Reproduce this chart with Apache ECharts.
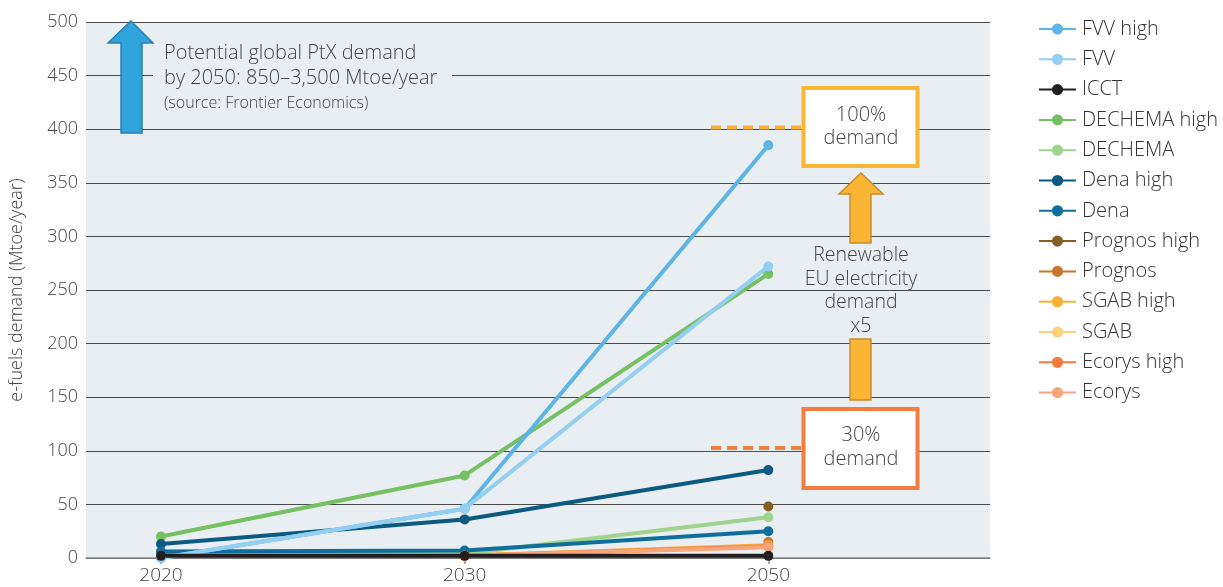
<!DOCTYPE html>
<html><head><meta charset="utf-8">
<script src="https://cdn.jsdelivr.net/npm/echarts@6/dist/echarts.min.js"></script>
<style>html,body{margin:0;padding:0;background:#fff}#c{width:1223px;height:587px}</style>
</head><body><div id="c"></div>
<script>
const categories = ['2020', '2030', '2050'];
const yTicks = [0, 50, 100, 150, 200, 250, 300, 350, 400, 450, 500];
const seriesNames = ['FVV high','FVV','ICCT','DECHEMA high','DECHEMA','Dena high','Dena','Prognos high','Prognos','SGAB high','SGAB','Ecorys high','Ecorys'];
const fvvHigh     = [0, 46, 385];
const fvv         = [0, 46, 272];
const icct        = [2, 2, 2];
const dechemaHigh = [20, 77, 265];
const dechema     = [4, 4, 38];
const denaHigh    = [13, 36, 82];
const dena        = [6, 7, 25];
const prognosHigh = [null, null, 48];
const prognos     = [null, null, 15];
const sgabHigh    = [null, 2, 12];
const sgab        = [null, 2, 11];
const ecorysHigh  = [null, 2, 11];
const ecorys      = [null, 2, 10];
const seriesValues = [fvvHigh, fvv, icct, dechemaHigh, dechema, denaHigh, dena, prognosHigh, prognos, sgabHigh, sgab, ecorysHigh, ecorys];
const colors = ['#5db5e6','#93cff1','#231f20','#74c062','#a0d38b','#0b5a80','#0f6e9c','#845e22','#c9762e','#fbb034','#fdd07c','#f47b3f','#f7a57b'];
const zs = [4, 4, 4, 3, 3, 3, 3, 3, 3, 3, 3, 3, 3];

const FONT = '"Open Sans", Lato, sans-serif';
const FW = 300;
const BG = '#e9eef2';
const TXT = '#444';

const series = seriesNames.map((name, i) => ({
  name, type: 'line', z: zs[i],
  data: seriesValues[i].map((v, j) => v == null ? null : [j, v]),
  connectNulls: false,
  symbol: 'circle', symbolSize: 10,
  lineStyle: { width: 4, color: colors[i] },
  itemStyle: { color: colors[i] },
  emphasis: { disabled: true },
  animation: false
}));

const chart = echarts.init(document.getElementById('c'));
chart.setOption({
  animation: false,
  grid: { left: 85, right: 233, top: 22, bottom: 29, show: true, backgroundColor: BG, borderWidth: 0 },
  xAxis: {
    type: 'value', min: -0.247, max: 2.73,
    splitLine: { show: false },
    axisLine: { show: true, lineStyle: { color: '#8a8a8a', width: 1.5 } },
    axisTick: { show: true, customValues: [0, 1, 2], length: 6, lineStyle: { color: '#8a8a8a', width: 1.5 } },
    axisLabel: { customValues: [0, 1, 2], formatter: v => categories[Math.round(v)], fontSize: 19, color: TXT, fontFamily: FONT, fontWeight: FW, margin: 8 }
  },
  yAxis: {
    type: 'value', min: yTicks[0], max: yTicks[yTicks.length - 1], interval: yTicks[1] - yTicks[0],
    name: 'e-fuels demand (Mtoe/year)', nameLocation: 'middle', nameGap: 60,
    nameTextStyle: { fontSize: 18, color: TXT, fontFamily: FONT, fontWeight: FW },
    axisLine: { show: false }, axisTick: { show: false },
    axisLabel: { fontSize: 18, color: TXT, fontFamily: FONT, fontWeight: FW, margin: 8 },
    splitLine: { lineStyle: { color: '#4a4a4a', width: 1 } }
  },
  legend: {
    orient: 'vertical', left: 1033, top: 14,
    itemWidth: 37, itemHeight: 14, itemGap: 10.3,
    data: seriesNames,
    textStyle: { fontSize: 20, color: '#333', fontFamily: FONT, fontWeight: FW, padding: [0, 0, 0, 1] }
  },
  series,
  graphic: [
    { type: 'rect', z: 10, shape: { x: 153, y: 64, width: 299, height: 24 }, style: { fill: BG } },
    { type: 'polygon', z: 11, shape: { points: [[131, 21], [153, 43], [142, 43], [142, 133], [121, 133], [121, 43], [108, 43]] },
      style: { fill: '#2ea3dc', stroke: '#2b7fb1', lineWidth: 1.5 } },
    { type: 'text', z: 11, x: 164, y: 53, style: { text: 'Potential global PtX demand', font: FW + ' 20px ' + FONT, fill: TXT, textVerticalAlign: 'middle' } },
    { type: 'text', z: 11, x: 164, y: 78, style: { text: 'by 2050: 850–3,500 Mtoe/year', font: FW + ' 20px ' + FONT, fill: TXT, textVerticalAlign: 'middle' } },
    { type: 'text', z: 11, x: 164, y: 103, style: { text: '(source: Frontier Economics)', font: FW + ' 16px ' + FONT, fill: TXT, textVerticalAlign: 'middle' } },

    { type: 'line', z: 10, shape: { x1: 711, y1: 127.5, x2: 802, y2: 127.5 }, style: { stroke: '#f6b13b', lineWidth: 4, lineDash: [10, 6] } },
    { type: 'line', z: 10, shape: { x1: 711, y1: 448, x2: 802, y2: 448 }, style: { stroke: '#f47d40', lineWidth: 4, lineDash: [10, 6] } },
    { type: 'rect', z: 11, shape: { x: 803.5, y: 88, width: 114, height: 78 }, style: { fill: '#fff', stroke: '#fbb634', lineWidth: 4 } },
    { type: 'text', z: 12, x: 861, y: 127, style: { text: '100%\ndemand', font: FW + ' 20px ' + FONT, fill: TXT, textAlign: 'center', textVerticalAlign: 'middle', lineHeight: 23.5 } },
    { type: 'rect', z: 11, shape: { x: 803.5, y: 409, width: 114, height: 79 }, style: { fill: '#fff', stroke: '#f47d40', lineWidth: 4 } },
    { type: 'text', z: 12, x: 861, y: 447, style: { text: '30%\ndemand', font: FW + ' 20px ' + FONT, fill: TXT, textAlign: 'center', textVerticalAlign: 'middle', lineHeight: 24 } },

    { type: 'polygon', z: 11, shape: { points: [[861, 173], [883, 194], [871, 194], [871, 243], [850, 243], [850, 194], [839, 194]] },
      style: { fill: '#fbb534', stroke: '#c98b2b', lineWidth: 1.5 } },
    { type: 'rect', z: 11, shape: { x: 850, y: 339, width: 21, height: 61 }, style: { fill: '#fbb534', stroke: '#c98b2b', lineWidth: 1.5 } },
    { type: 'text', z: 12, x: 861, y: 291, style: { text: 'Renewable\nEU electricity\ndemand\nx5', font: FW + ' 19.5px ' + FONT, fill: TXT, textAlign: 'center', textVerticalAlign: 'middle', lineHeight: 23.7 } }
  ]
});
</script>
</body></html>
